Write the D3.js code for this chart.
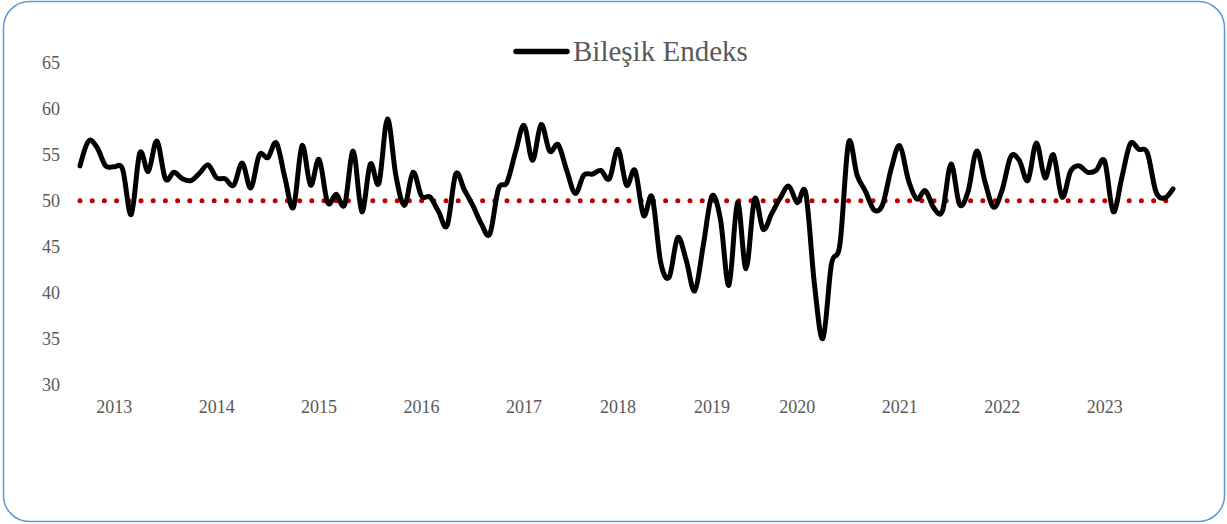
<!DOCTYPE html>
<html>
<head>
<meta charset="utf-8">
<script src="https://cdn.jsdelivr.net/npm/d3@7"></script>
<style>
	body { margin: 0; background: #fff; }
	svg { display: block; }
</style>
</head>
<body>
<div id="chart"></div>
<script>
var width = 1227;
var height = 524;

// aylık bileşik endeks (129 ay)
var endeks = [
	53.8, 56.5, 55.8, 53.8, 53.7, 53.4, 48.5, 55.2, 53.2, 56.5,
	52.4, 53.1, 52.4, 52.2, 53.0, 53.9, 52.5, 52.4, 51.7, 54.1,
	51.4, 55.0, 54.7, 56.3, 52.5, 49.3, 56.0, 51.7, 54.5, 49.8,
	50.7, 49.6, 55.4, 48.8, 54.0, 51.9, 58.9, 52.7, 49.5, 53.1,
	50.5, 50.4, 48.8, 47.3, 52.9, 51.2, 49.5, 47.5, 46.4, 51.3,
	52.0, 55.3, 58.2, 54.4, 58.3, 55.4, 56.1, 53.3, 50.8, 52.8,
	52.9, 53.3, 52.4, 55.6, 51.7, 53.3, 48.4, 50.4, 43.3, 41.7,
	46.0, 43.5, 40.2, 45.2, 50.5, 48.0, 40.8, 49.8, 42.6, 50.2,
	46.9, 48.6, 50.3, 51.6, 49.8, 50.8, 41.0, 35.0, 43.1, 45.3,
	56.3, 52.8, 51.0, 49.0, 49.6, 53.5, 56.0, 52.3, 50.2, 51.1,
	49.2, 48.9, 54.0, 49.6, 51.0, 55.4, 52.0, 49.3, 51.2, 54.8,
	54.4, 52.2, 56.3, 52.5, 55.0, 50.4, 53.2, 53.8, 53.1, 53.3,
	54.3, 48.8, 52.5, 56.2, 55.6, 55.2, 51.0, 50.3, 51.3
];

// yıl etiketleri ve bulundukları ay sırası
var yillar = ["2013", "2014", "2015", "2016", "2017", "2018", "2019", "2020", "2021", "2022", "2023"];
var yilSira = [4, 16, 28, 40, 52, 63, 74, 84, 96, 108, 120];

var yTicks = [30, 35, 40, 45, 50, 55, 60, 65];
var esik = 50;
var seriAdi = "Bileşik Endeks";

var fontFamily = "'Times New Roman', 'Liberation Serif', serif";
var gri = "#595959";

function draw() {
	var svg = d3.select("#chart")
		.append("svg")
		.attr("width", width)
		.attr("height", height);

	// çerçeve
	svg.append("rect")
		.attr("x", 3.5)
		.attr("y", 1.5)
		.attr("width", width - 6)
		.attr("height", height - 4)
		.attr("rx", 26)
		.attr("ry", 26)
		.attr("fill", "white")
		.attr("stroke", "#5B9BD5")
		.attr("stroke-width", 1.5);

	var x = d3.scaleLinear().domain([0, endeks.length - 1]).range([80, 1173]);
	var y = d3.scaleLinear().domain([30, 65]).range([384.5, 63]);

	// y ekseni
	var yAxis = svg.append("g")
		.attr("transform", "translate(60,0)")
		.call(d3.axisLeft(y).tickValues(yTicks).tickSize(0).tickPadding(0));
	yAxis.select(".domain").remove();
	yAxis.selectAll("text")
		.attr("fill", gri)
		.style("font-family", fontFamily)
		.style("font-size", "18px");

	// x ekseni (yıl etiketleri)
	svg.append("g")
		.selectAll("text")
		.data(yillar)
		.join("text")
		.attr("x", (d, i) => x(yilSira[i]))
		.attr("y", 413)
		.attr("text-anchor", "middle")
		.attr("fill", gri)
		.style("font-family", fontFamily)
		.style("font-size", "18px")
		.text((d) => d);

	// 50 eşik çizgisi
	svg.append("line")
		.attr("x1", x(0))
		.attr("x2", x(endeks.length - 1))
		.attr("y1", y(esik))
		.attr("y2", y(esik))
		.attr("stroke", "#C00000")
		.attr("stroke-width", 5)
		.attr("stroke-linecap", "round")
		.attr("stroke-dasharray", "0,12.2");

	// endeks çizgisi
	var line = d3.line()
		.x((d, i) => x(i))
		.y((d) => y(d))
		.curve(d3.curveCardinal.tension(0));

	svg.append("path")
		.datum(endeks)
		.attr("d", line)
		.attr("fill", "none")
		.attr("stroke", "black")
		.attr("stroke-width", 5)
		.attr("stroke-linejoin", "round")
		.attr("stroke-linecap", "round");

	// lejant
	var leg = svg.append("g");
	leg.append("line")
		.attr("x1", 516)
		.attr("x2", 567)
		.attr("y1", 51.5)
		.attr("y2", 51.5)
		.attr("stroke", "black")
		.attr("stroke-width", 5.5)
		.attr("stroke-linecap", "round");
	leg.append("text")
		.attr("x", 573)
		.attr("y", 61)
		.attr("fill", gri)
		.style("font-family", fontFamily)
		.style("font-size", "29px")
		.text(seriAdi);
}

draw();
</script>
</body>
</html>
